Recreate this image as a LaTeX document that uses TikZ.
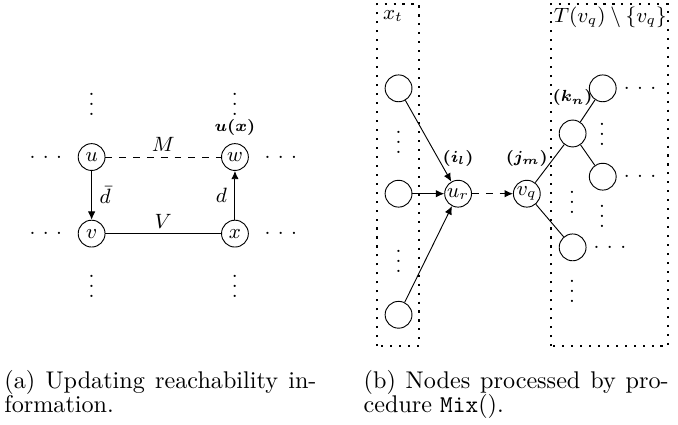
\documentclass[tikz,border=0pt]{standalone}
\usepackage[]{amsmath}
\usepackage[]{bm}
\usetikzlibrary{%
    shapes,%
    arrows,%
    arrows.meta,%
    positioning,%
    calc%
}
% Rows and columns of dots
\newcommand{\vdts}{\vbox{\baselineskip 4.35pt\lineskiplimit 0pt\hbox{.}\hbox{.}\hbox{.}}}
\newcommand{\hdts}{\hbox{.\kern3.2pt.\kern3.2pt.}}
\tikzset{
    vertex/.style = {draw, circle, minimum size = 0.41cm, inner sep = 0pt},
    dots/.style = {inner sep = 0pt},
    tag/.style = {font = \fontsize{7.5}{9}\selectfont},
    arr/.style = {-{Latex[length = 3.6pt, width = 3.2pt]}},
    dotbox/.style = {line width = 0.9pt, dash pattern = on 0.9pt off 3pt},
    subcap/.style = {anchor = north west, inner sep = 0pt, text width = 4.77cm, align = justify,
        font = \fontsize{10.5}{10.6}\selectfont}
}

\begin{document}
\begin{tikzpicture}[font = \fontsize{9}{11}\selectfont]
    \useasboundingbox (0,0) rectangle (10.36,6.48);

    % (a) Define the four vertices
    \node[vertex] (u) at (1.40,4.08) {$u$};
    \node[vertex, label = {[tag]above:$\bm{u(x)}$}] (w) at (3.59,4.08) {$w$};
    \node[vertex] (v) at (1.40,2.91) {$v$};
    \node[vertex] (x) at (3.59,2.91) {$x$};

    % Surrounding dots
    \node[dots] (uleft) at (0.70,4.08) {\hdts};
    \node[dots] (vleft) at (0.70,2.91) {\hdts};
    \node[dots] (wright) at (4.29,4.08) {\hdts};
    \node[dots] (xright) at (4.29,2.91) {\hdts};
    \node[dots] (uup) at (1.40,4.89) {\vdts};
    \node[dots] (wup) at (3.59,4.89) {\vdts};
    \node[dots] (vdown) at (1.40,2.10) {\vdts};
    \node[dots] (xdown) at (3.59,2.10) {\vdts};

    % Draw the edges
    \draw[dashed] (u) -- node[above, inner sep = 2pt] {$M$} (w);
    \draw[arr] (u) -- node[right] {$\bar{d}$} (v);
    \draw (v) -- node[above, inner sep = 2pt] {$V$} (x);
    \draw[arr] (x) -- node[left] {$d$} (w);

    % (b) Define the dotted boxes
    \coordinate (xtsw) at (5.76,1.19);
    \coordinate (xtne) at (6.40,6.42);
    \coordinate (tsw) at (8.42,1.19);
    \coordinate (tne) at (10.21,6.42);
    \draw[dotbox] (xtsw) rectangle (xtne);
    \draw[dotbox] (tsw) rectangle (tne);
    \node[below right, inner sep = 2.5pt] (xtlab) at (xtsw |- xtne) {$x_t$};
    \node[below right, inner sep = 1pt] (tlab) at (tsw |- tne) {$T(v_q) \setminus \{v_q\}$};

    % Vertices of x_t
    \node[vertex] (a1) at (6.09,5.13) {};
    \node[vertex] (a2) at (6.09,3.52) {};
    \node[vertex] (a3) at (6.09,1.67) {};
    \node[dots] (a12) at (6.09,4.31) {\vdts};
    \node[dots] (a23) at (6.09,2.48) {\vdts};

    % Middle vertices
    \node[vertex, label = {[tag, label distance = 2.4pt]above:$\bm{(i_l)}$}] (ur) at (7.00,3.52) {$u_r$};
    \node[vertex, label = {[tag, label distance = 2.4pt]above:$\bm{(j_m)}$}] (vq) at (8.05,3.52) {$v_q$};

    % Vertices of the subtree
    \node[vertex, label = {[tag, label distance = 2.4pt]above:$\bm{(k_n)}$}] (k) at (8.75,4.44) {};
    \node[vertex] (b1) at (9.21,5.13) {};
    \node[vertex] (b2) at (9.21,3.78) {};
    \node[vertex] (b3) at (8.75,2.70) {};
    \node[dots] (b1right) at (9.78,5.13) {\hdts};
    \node[dots] (b2right) at (9.78,3.78) {\hdts};
    \node[dots] (b3right) at (9.32,2.70) {\hdts};
    \node[dots] (b12) at (9.20,4.43) {\vdts};
    \node[dots] (b2down) at (9.20,3.18) {\vdts};
    \node[dots] (kb3) at (8.74,3.39) {\vdts};
    \node[dots] (b3down) at (8.74,2.02) {\vdts};

    % Draw the edges
    \draw[arr] (a1) -- (ur);
    \draw[arr] (a2) -- (ur);
    \draw[arr] (a3) -- (ur);
    \draw[arr, dashed] (ur) -- (vq);
    \draw (vq) -- (k);
    \draw (k) -- (b1);
    \draw (k) -- (b2);
    \draw (vq) -- (b3);

    % Subcaptions
    \node[subcap] (capa) at (0.06,0.83) {(a) Updating reachability in-\linebreak formation.};
    \node[subcap, text width = 4.66cm] (capb) at (5.55,0.83) {(b) Nodes processed by pro-\linebreak cedure \texttt{Mix}().};
\end{tikzpicture}
\end{document}
